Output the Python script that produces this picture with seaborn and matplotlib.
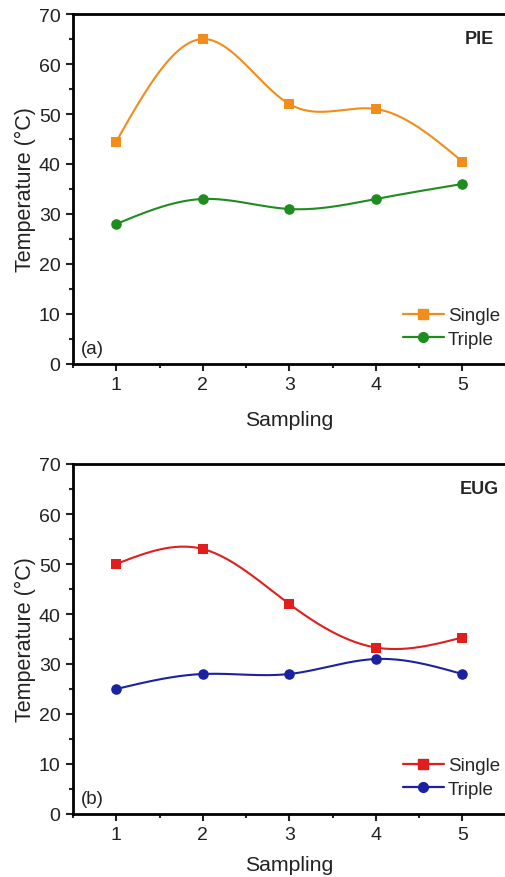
import numpy as np
import pandas as pd
import matplotlib
matplotlib.use("Agg")
import matplotlib.pyplot as plt
import seaborn as sns
from matplotlib.ticker import MultipleLocator
from matplotlib.lines import Line2D

sampling = [1, 2, 3, 4, 5]
pie_single = [44.5, 65, 52, 51, 40.5]
pie_triple = [28, 33, 31, 33, 36]
eug_single = [50, 53, 42, 33.3, 35.3]
eug_triple = [25, 28, 28, 31, 28]
panel_names = ["PIE", "EUG"]
panel_tags = ["(a)", "(b)"]

sns.set_style("ticks")
plt.rcParams['font.family'] = ['Liberation Sans', 'DejaVu Sans']


def natural_spline(x, y, n=200):
    x = np.asarray(x, float); y = np.asarray(y, float)
    k = len(x); h = np.diff(x)
    A = np.zeros((k, k)); b = np.zeros(k)
    A[0, 0] = A[-1, -1] = 1
    for i in range(1, k - 1):
        A[i, i - 1] = h[i - 1]; A[i, i] = 2 * (h[i - 1] + h[i]); A[i, i + 1] = h[i]
        b[i] = 6 * ((y[i + 1] - y[i]) / h[i] - (y[i] - y[i - 1]) / h[i - 1])
    M = np.linalg.solve(A, b)
    xs = np.linspace(x[0], x[-1], n); ys = np.empty_like(xs)
    for j, t in enumerate(xs):
        i = min(np.searchsorted(x, t, side='right') - 1, k - 2)
        a = x[i + 1] - t; c = t - x[i]
        ys[j] = (M[i] * a**3 + M[i + 1] * c**3) / (6 * h[i]) + (y[i] / h[i] - M[i] * h[i] / 6) * a \
            + (y[i + 1] / h[i] - M[i + 1] * h[i] / 6) * c
    return xs, ys


fig = plt.figure(figsize=(5.05, 8.78), dpi=100)
W, H = 505, 878
left = 73 / W
width = (86.5 * 5.0) / W  # x from 0.5 to 5.5
height = 350 / H
ax1 = fig.add_axes([left, (H - 365) / H, width, height])
ax2 = fig.add_axes([left, (H - 815) / H, width, height])

panels = [
    (ax1, pie_single, pie_triple, "#F28C1A", "#1E8C1E", "s", "o", 12),
    (ax2, eug_single, eug_triple, "#E01E1E", "#1A22A0", "s", "o", 8),
]

for idx, (ax, single, triple, c1, c2, m1, m2, lpad) in enumerate(panels):
    for vals, col, mk, lab in [(single, c1, m1, "Single"), (triple, c2, m2, "Triple")]:
        xs, ys = natural_spline(sampling, vals)
        sns.lineplot(x=xs, y=ys, ax=ax, color=col, lw=1.5, sort=False)
        sns.scatterplot(x=sampling, y=vals, ax=ax, color=col, marker=mk, s=58,
                        edgecolor=col, linewidth=0, zorder=5)
    ax.set_xlim(0.5, 5.5)
    ax.set_ylim(0, 70)
    ax.xaxis.set_major_locator(MultipleLocator(1))
    ax.xaxis.set_minor_locator(MultipleLocator(0.5))
    ax.yaxis.set_major_locator(MultipleLocator(10))
    ax.yaxis.set_minor_locator(MultipleLocator(5))
    ax.tick_params(axis='both', which='major', direction='out', length=5, width=1.5,
                   labelsize=14, colors='#222222', pad=4)
    ax.tick_params(axis='both', which='minor', direction='out', length=3, width=1.5)
    for s in ax.spines.values():
        s.set_linewidth(2)
        s.set_color('black')
    ax.spines['right'].set_visible(False)
    ax.set_xlabel("Sampling", fontsize=15.3, labelpad=lpad, color='#222222')
    ax.set_ylabel("Temperature (°C)", fontsize=15.5, labelpad=2, color='#222222')
    ax.text(0.94, 0.93, panel_names[idx], transform=ax.transAxes, fontsize=13,
            fontweight='bold', ha='center', va='center')
    ax.text(0.018, 0.045, panel_tags[idx], transform=ax.transAxes, fontsize=13.5,
            ha='left', va='center', color='#222222')
    handles = [Line2D([], [], color=c1, marker=m1, markersize=7, lw=1.6),
               Line2D([], [], color=c2, marker=m2, markersize=7, lw=1.6)]
    ax.legend(handles, ["Single", "Triple"], frameon=False, fontsize=13.5,
              loc='lower left', bbox_to_anchor=(0.745, 0.025), handlelength=2.2,
              handletextpad=0.2, labelspacing=0.33, borderaxespad=0)

fig.savefig("out.png", dpi=100)
